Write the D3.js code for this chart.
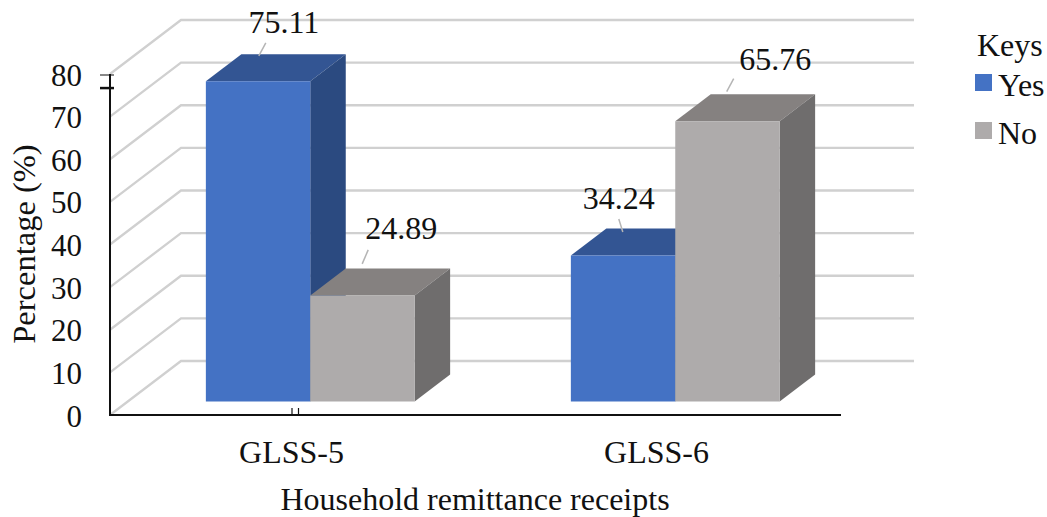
<!DOCTYPE html>
<html>
<head>
<meta charset="utf-8">
<script src="https://cdn.jsdelivr.net/npm/d3@7"></script>
<style>
html,body{margin:0;padding:0;background:#fff}
svg{display:block}
text{font-family:"Liberation Serif","Times New Roman",serif;fill:#111}
</style>
</head>
<body>
<svg id="chart" width="1047" height="517"></svg>
<script>
// Chart values
const categories = ["GLSS-5", "GLSS-6"];
const seriesNames = ["Yes", "No"];
const yesValues = [75.11, 34.24];
const noValues = [24.89, 65.76];
const yTicks = [0, 10, 20, 30, 40, 50, 60, 70, 80];
const legendTitle = "Keys";
const xTitle = "Household remittance receipts";
const yTitle = "Percentage (%)";

// Layout of the oblique 3D box
const frame = {left: 110, right: 840, bottom: 415, top: 74};
const depthX = 71, depthY = -54;
const barDepthStart = 0.25, barDepthEnd = 0.75;
const fontSize = 32;
const tickFontSize = 31;

const palette = {
  Yes: {front: "#4472C4", top: "#335593", side: "#2B4A80"},
  No:  {front: "#AEABAB", top: "#858180", side: "#6F6D6D"}
};

const svg = d3.select("#chart");
const y = d3.scaleLinear().domain([0, 80]).range([frame.bottom, frame.top]);
const x = d3.scaleBand().domain(categories).range([frame.left, frame.right]);
const series = d3.scaleBand().domain(seriesNames)
  .range([0, x.bandwidth() * 0.572])
  .paddingInner(0);
const groupInset = (x.bandwidth() - series.range()[1]) / 2;

// Projects a point (px, value, depth 0..1) onto the page
const project = (px, value, depth) => [px + depth * depthX, y(value) + depth * depthY];
const path = pts => "M" + pts.map(p => p.join(",")).join("L") + "Z";

// Wall gridlines: slanted on the left wall, then flat along the back wall
svg.append("g").selectAll("path").data(yTicks).join("path")
  .attr("d", v => {
    const a = project(frame.left, v, 0), b = project(frame.left, v, 1), c = project(frame.right + 3, v, 1);
    return `M${a}L${b}L${c}`;
  })
  .attr("fill", "none").attr("stroke", "#d0d0d0").attr("stroke-width", 2.3);

// Axis lines and tick marks
const axes = svg.append("g").attr("stroke", "#111");
axes.append("line").attr("x1", frame.left).attr("x2", frame.left)
  .attr("y1", y(80)).attr("y2", y(0) + 1).attr("stroke-width", 2);
axes.append("line").attr("x1", frame.left - 1).attr("x2", frame.right + 1)
  .attr("y1", y(0)).attr("y2", y(0)).attr("stroke-width", 2);
axes.append("line").attr("x1", frame.left - 10).attr("x2", frame.left + 4)
  .attr("y1", y(80) + 1).attr("y2", y(80) + 1).attr("stroke-width", 1);
axes.append("line").attr("x1", frame.left - 10).attr("x2", frame.left + 4)
  .attr("y1", y(76.7)).attr("y2", y(76.7)).attr("stroke-width", 2.5);
const tickX = x(categories[0]) + x.bandwidth() / 2;
[-0.5, 6].forEach(o => axes.append("line")
  .attr("x1", tickX + o).attr("x2", tickX + o)
  .attr("y1", y(0) - 7).attr("y2", y(0)).attr("stroke-width", 1.2));

// Bars: one box per category and series, back to front
const rows = categories.flatMap((c, i) => [
  {category: c, name: "Yes", value: yesValues[i]},
  {category: c, name: "No", value: noValues[i]}
]);
const boxes = svg.append("g").selectAll("g").data(rows).join("g");
const xL = d => x(d.category) + groupInset + series(d.name);
const xR = d => xL(d) + series.bandwidth();

boxes.append("path") // top face
  .attr("fill", d => palette[d.name].top)
  .attr("d", d => path([
    project(xL(d), d.value, barDepthStart), project(xR(d), d.value, barDepthStart),
    project(xR(d), d.value, barDepthEnd), project(xL(d), d.value, barDepthEnd)]));
boxes.append("path") // right side face
  .attr("fill", d => palette[d.name].side)
  .attr("d", d => path([
    project(xR(d), 0, barDepthStart), project(xR(d), d.value, barDepthStart),
    project(xR(d), d.value, barDepthEnd), project(xR(d), 0, barDepthEnd)]));
boxes.append("path") // front face
  .attr("fill", d => palette[d.name].front)
  .attr("d", d => path([
    project(xL(d), 0, barDepthStart), project(xL(d), d.value, barDepthStart),
    project(xR(d), d.value, barDepthStart), project(xR(d), 0, barDepthStart)]));

// Value labels with short leader lines, placed relative to each bar's top face
const labelShift = {
  "GLSS-5|Yes": {tx: 8, ty: -35, lx: [-17, -10], ly: [-12, -25]},
  "GLSS-5|No":  {tx: 21, ty: -43, lx: [-18, -12], ly: [-18, -32]},
  "GLSS-6|Yes": {tx: -22, ty: -33, lx: [-18, -22], ly: [-10, -23]},
  "GLSS-6|No":  {tx: 30, ty: -38, lx: [-18.5, -11.5], ly: [-16, -29]}
};
// The top-face labels sit over later bars, so they go in a layer of their own
const labelLayer = svg.append("g");
rows.forEach(d => {
  const s = labelShift[d.category + "|" + d.name];
  const c = project((xL(d) + xR(d)) / 2, d.value, 0.5);
  labelLayer.append("line")
    .attr("x1", c[0] + s.lx[0]).attr("y1", c[1] + s.ly[0])
    .attr("x2", c[0] + s.lx[1]).attr("y2", c[1] + s.ly[1])
    .attr("stroke", "#b5b5b5").attr("stroke-width", 1.5);
  labelLayer.append("text").attr("x", c[0] + s.tx).attr("y", c[1] + s.ty)
    .attr("text-anchor", "middle").attr("font-size", fontSize)
    .text(d.value.toFixed(2));
});

// Value axis labels
svg.append("g").selectAll("text").data(yTicks).join("text")
  .attr("x", 82).attr("y", v => y(v) + 11.5)
  .attr("text-anchor", "end").attr("font-size", tickFontSize)
  .text(d => d);

// Category labels
svg.append("g").selectAll("text").data(categories).join("text")
  .attr("x", c => x(c) + x.bandwidth() / 2 - 1).attr("y", 463)
  .attr("text-anchor", "middle").attr("font-size", fontSize)
  .text(d => d);

// Axis titles
svg.append("text").attr("x", 475).attr("y", 510)
  .attr("text-anchor", "middle").attr("font-size", fontSize).text(xTitle);
svg.append("text").attr("transform", "translate(35,244) rotate(-90)")
  .attr("text-anchor", "middle").attr("font-size", 32.5).text(yTitle);

// Legend
svg.append("text").attr("x", 977).attr("y", 56).attr("font-size", fontSize).text(legendTitle);
const legendY = d3.scalePoint().domain(seriesNames).range([74, 122]);
const legend = svg.append("g").selectAll("g").data(seriesNames).join("g");
legend.append("rect").attr("x", 975).attr("y", d => legendY(d))
  .attr("width", 17).attr("height", 17).attr("fill", d => palette[d].front);
legend.append("text").attr("x", 998).attr("y", d => legendY(d) + 22)
  .attr("font-size", fontSize).text(d => d);
</script>
</body>
</html>
